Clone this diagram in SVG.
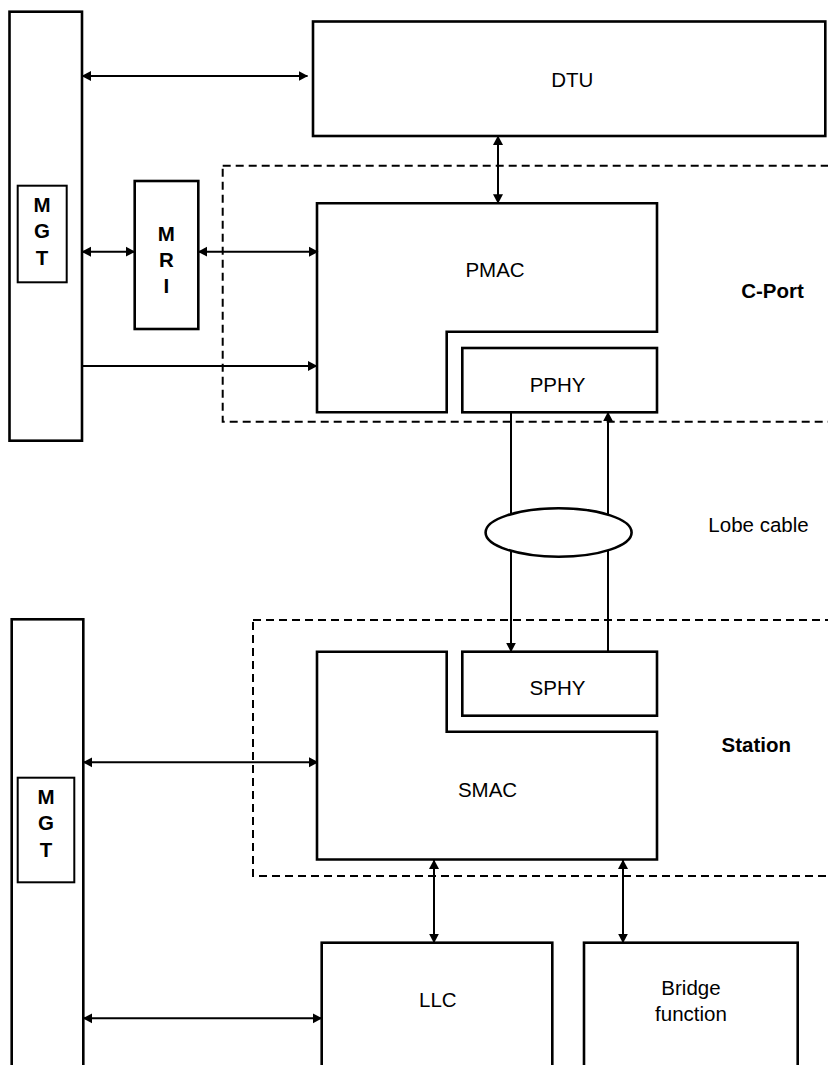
<svg xmlns="http://www.w3.org/2000/svg" width="828" height="1065" viewBox="0 0 828 1065">
<style>
.box{fill:#fff;stroke:#000;stroke-width:2.6}
.thin{fill:#fff;stroke:#000;stroke-width:2}
.dash{fill:none;stroke:#000;stroke-width:2;stroke-dasharray:8 5}
.ln{fill:none;stroke:#000;stroke-width:2}
.t{font-family:"Liberation Sans",Arial,sans-serif;font-size:20.5px;fill:#000;text-anchor:middle}
.b{font-weight:bold}
</style>
<defs>
<marker id="ah" markerUnits="userSpaceOnUse" markerWidth="10" markerHeight="11" refX="9" refY="5.5" orient="auto-start-reverse">
<path d="M0,0.5 L9.5,5.5 L0,10.5 Z" fill="#000"/>
</marker>
</defs>
<rect width="828" height="1065" fill="#fff"/>

<g id="cport-boundary"><rect class="dash" x="222.7" y="165.7" width="640" height="256"/></g>
<g id="station-boundary"><rect class="dash" x="253" y="620" width="620" height="256"/></g>

<g id="mgt-top">
<rect class="box" x="9.5" y="11.7" width="72.5" height="429"/>
<rect class="thin" x="17.7" y="185.7" width="49" height="96.6"/>
<text class="t b" x="42" y="212.3">M</text>
<text class="t b" x="42" y="238.3">G</text>
<text class="t b" x="42" y="265">T</text>
</g>

<g id="dtu">
<rect class="box" x="313" y="21.5" width="512.3" height="114.5"/>
<text class="t" x="572.3" y="87.3">DTU</text>
</g>

<g id="mri">
<rect class="box" x="134.7" y="181" width="63.6" height="148"/>
<text class="t b" x="166.3" y="240.7">M</text>
<text class="t b" x="166.3" y="266.7">R</text>
<text class="t b" x="166.3" y="293.3">I</text>
</g>

<g id="pmac">
<path class="box" d="M317,203.3 H657 V331.7 H446.7 V412.3 H317 Z"/>
<text class="t" x="495" y="276.7">PMAC</text>
</g>

<g id="pphy">
<rect class="box" x="462.3" y="348" width="194.7" height="64.3"/>
<text class="t" x="557.6" y="391.7">PPHY</text>
</g>

<g id="cport-label"><text class="t b" x="772.5" y="297.7">C-Port</text></g>

<g id="connectors">
<line class="ln" x1="82" y1="76" x2="307.5" y2="76" marker-start="url(#ah)" marker-end="url(#ah)"/>
<line class="ln" x1="82" y1="251.7" x2="134.7" y2="251.7" marker-start="url(#ah)" marker-end="url(#ah)"/>
<line class="ln" x1="198.3" y1="251.7" x2="318" y2="251.7" marker-start="url(#ah)" marker-end="url(#ah)"/>
<line class="ln" x1="82" y1="366" x2="317" y2="366" marker-end="url(#ah)"/>
<line class="ln" x1="498" y1="136" x2="498" y2="203.3" marker-start="url(#ah)" marker-end="url(#ah)"/>
<line class="ln" x1="511" y1="412.3" x2="511" y2="651.7" marker-end="url(#ah)"/>
<line class="ln" x1="608" y1="651.7" x2="608" y2="412.3" marker-end="url(#ah)"/>
<line class="ln" x1="83.3" y1="762.3" x2="318" y2="762.3" marker-start="url(#ah)" marker-end="url(#ah)"/>
<line class="ln" x1="434" y1="860" x2="434" y2="942.7" marker-start="url(#ah)" marker-end="url(#ah)"/>
<line class="ln" x1="623" y1="860" x2="623" y2="942.7" marker-start="url(#ah)" marker-end="url(#ah)"/>
<line class="ln" x1="83.3" y1="1018.3" x2="321.7" y2="1018.3" marker-start="url(#ah)" marker-end="url(#ah)"/>
</g>

<g id="lobe-cable">
<ellipse class="box" cx="558.6" cy="532.5" rx="73" ry="24.2"/>
</g>
<g id="lobe-cable-label"><text class="t" x="758.5" y="531.7">Lobe cable</text></g>

<g id="mgt-bottom">
<rect class="box" x="11.7" y="619.3" width="71.6" height="500"/>
<rect class="thin" x="17.7" y="777.7" width="56.6" height="104.6"/>
<text class="t b" x="46" y="804">M</text>
<text class="t b" x="46" y="830">G</text>
<text class="t b" x="46" y="856.7">T</text>
</g>

<g id="sphy">
<rect class="box" x="462.3" y="651.7" width="194.7" height="64"/>
<text class="t" x="557.5" y="695">SPHY</text>
</g>

<g id="smac">
<path class="box" d="M317,651.7 H446.7 V731.7 H657 V859.5 H317 Z"/>
<text class="t" x="487.5" y="796.7">SMAC</text>
</g>

<g id="station-label"><text class="t b" x="756.3" y="751.7">Station</text></g>

<g id="llc">
<rect class="box" x="321.7" y="942.7" width="230.6" height="200"/>
<text class="t" x="437.8" y="1007.3">LLC</text>
</g>

<g id="bridge">
<rect class="box" x="584" y="942.7" width="213.7" height="200"/>
<text class="t" x="691" y="995">Bridge</text>
<text class="t" x="691" y="1020.7">function</text>
</g>
</svg>
